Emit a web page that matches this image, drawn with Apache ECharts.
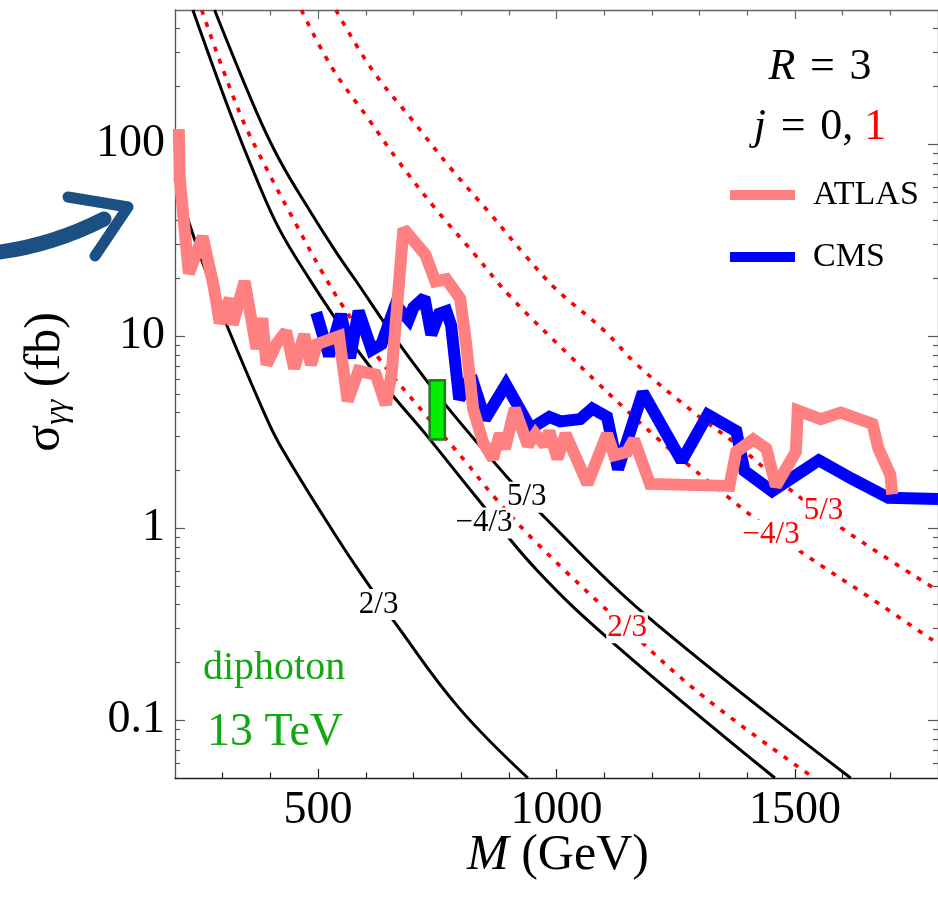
<!DOCTYPE html>
<html><head><meta charset="utf-8">
<script src="https://cdn.jsdelivr.net/npm/echarts@6/dist/echarts.min.js"></script>
<style>html,body{margin:0;padding:0;background:#fff}#c{width:938px;height:909px}</style>
</head><body><div id="c"></div>
<script>
// ---- tick values ----
const massTicks = [500, 1000, 1500];
const massMinorTicks = [300, 400, 600, 700, 800, 900, 1100, 1200, 1300, 1400, 1600, 1700];
const sigmaTicks = [0.1, 1, 10, 100];
const sigmaMinorTicks = [0.06,0.07,0.08,0.09,0.2,0.3,0.4,0.5,0.6,0.7,0.8,0.9,2,3,4,5,6,7,8,9,20,30,40,50,60,70,80,90,200,300,400];

// ---- ATLAS limit ----
const atlasMass = [208, 210, 229, 258, 281, 294, 314.6, 321, 346, 371, 383, 392, 412.5, 433, 450, 471, 485, 498, 544, 562, 585, 621, 642, 654, 679, 725, 746, 769, 798, 810, 825, 846, 867, 881, 892, 912.5, 940, 956, 975, 985, 1002, 1019, 1065, 1106, 1121, 1148, 1162.5, 1196, 1362.5, 1377, 1412.5, 1440, 1460, 1502, 1506, 1554, 1596, 1662.5, 1675, 1700, 1704];
const atlasSigma = [120, 66, 21.2, 33, 18.2, 11.7, 15.7, 11.5, 19.3, 8.6, 12.4, 7.1, 9.1, 10.6, 6.8, 10.2, 7.1, 9.1, 10.0, 4.6, 6.6, 6.3, 4.4, 6.3, 36.3, 26.6, 19.3, 19.8, 15.7, 9.4, 4.2, 2.8, 2.3, 3.1, 2.6, 4.2, 2.7, 3.1, 2.7, 3.2, 2.3, 3.1, 1.7, 3.1, 2.4, 2.5, 2.9, 1.7, 1.66, 2.5, 2.9, 2.6, 1.66, 2.5, 4.1, 3.7, 4.0, 3.5, 2.6, 1.9, 1.5];

// ---- CMS limit ----
const cmsMass = [496, 523, 548, 567, 585, 612.5, 633, 662.5, 690, 700, 723, 737.5, 754, 769, 779, 796, 821, 850, 894, 946, 985, 1008, 1050, 1075, 1106, 1129, 1181, 1262.5, 1317, 1377, 1394, 1452, 1550, 1621, 1696, 1800];
const cmsSigma = [13.3, 7.9, 13.0, 7.7, 13.5, 8.5, 9.1, 14.6, 12.2, 14.1, 15.9, 10.2, 13.1, 13.5, 11.4, 4.7, 6.2, 3.7, 5.6, 3.3, 3.8, 3.6, 3.7, 4.2, 3.8, 2.03, 5.1, 2.24, 3.9, 3.2, 1.99, 1.56, 2.26, 1.80, 1.44, 1.42];

// ---- theory curves, j = 0 (black) ----
const q23j0Mass = [200, 237.5, 267, 308, 383, 419, 544, 610, 662, 794, 940];
const q23j0Sigma = [66, 34, 21, 11.5, 4.2, 2.74, 0.86, 0.49, 0.32, 0.117, 0.05];
const qm43j0Mass = [237.5, 315, 371, 419, 481, 550, 585, 654, 725, 829, 960, 1121, 1458];
const qm43j0Sigma = [500, 147, 66, 36, 20, 11, 8.3, 5.0, 3.1, 1.48, 0.60, 0.25, 0.05];
const q53j0Mass = [283, 371, 419, 481, 537.5, 579, 669, 767, 892, 975, 1183, 1617];
const q53j0Sigma = [500, 147, 83, 45.7, 27.5, 19.5, 9.2, 4.4, 1.9, 1.14, 0.36, 0.05];

// ---- theory curves, j = 1 (red dotted) ----
const q23j1Mass = [256, 335, 392, 454, 508, 550, 627, 725, 808, 871, 960, 1148, 1308, 1540];
const q23j1Sigma = [500, 147, 74.6, 38.2, 21.7, 14.6, 7.7, 3.9, 2.24, 1.44, 0.83, 0.30, 0.133, 0.05];
const qm43j1Mass = [465, 529, 606, 669, 746, 829, 904, 1029, 1085, 1148, 1210, 1279, 1356, 1419, 1517, 1654, 1790];
const qm43j1Sigma = [500, 251, 135, 81.3, 46.2, 26.6, 16.0, 7.85, 5.75, 4.09, 2.96, 2.11, 1.48, 1.11, 0.74, 0.44, 0.26];
const q53j1Mass = [537.5, 612.5, 696, 779, 862.5, 933, 998, 1100, 1169, 1294, 1377, 1475, 1606, 1790];
const q53j1Sigma = [500, 246, 135, 74.5, 43, 26.6, 17.7, 10.7, 7.1, 3.9, 2.74, 1.7, 0.97, 0.49];

// ---- curve labels ----
const curveLabelText = ['2/3', '\u22124/3', '5/3', '2/3', '\u22124/3', '5/3'];
const curveLabelMass = [627, 848, 937.5, 1148, 1450, 1560];
const curveLabelSigma = [0.40, 1.065, 1.45, 0.303, 0.92, 1.23];
const curveLabelSpin = [0, 0, 0, 1, 1, 1];

// ---- 750 GeV excess box ----
const boxMass = [734, 766];
const boxSigma = [2.9, 5.9];

const SERIF = '"Liberation Serif", "Times New Roman", serif';
const zip = (a, b) => a.map((v, i) => [v, b[i]]);

function fmt(v) { return String(Number(Number(v).toPrecision(3))); }

function xAx(pos, ticks, len, label, lineColor, showLine) {
  return {
    type: 'value', min: 200, max: 1800, position: pos,
    splitLine: { show: false },
    axisLine: { show: showLine, onZero: false, lineStyle: { color: lineColor, width: 1.3 } },
    axisTick: { show: true, inside: true, length: len, customValues: ticks, lineStyle: { color: lineColor, width: 1.2 } },
    axisLabel: label ? { show: true, customValues: ticks, formatter: fmt, fontSize: 46, fontFamily: SERIF, color: '#000', margin: 10 } : { show: false }
  };
}
function yAx(pos, ticks, len, label, lineColor, showLine) {
  return {
    type: 'log', logBase: 10, min: 0.05, max: 500, position: pos,
    splitLine: { show: false }, minorTick: { show: false },
    axisLine: { show: showLine, onZero: false, lineStyle: { color: lineColor, width: 1.3 } },
    axisTick: { show: true, inside: true, length: len, customValues: ticks, lineStyle: { color: lineColor, width: 1.2 } },
    axisLabel: label ? { show: true, customValues: ticks, formatter: fmt, fontSize: 46, fontFamily: SERIF, color: '#000', margin: 10 } : { show: false }
  };
}

function curve(name, m, s, red) {
  return {
    name, type: 'line', xAxisIndex: 0, yAxisIndex: 0, data: zip(m, s), showSymbol: false, symbol: 'none',
    smooth: 0.4, silent: true, z: 2,
    lineStyle: red ? { color: '#ff0000', width: 3.6, type: [5, 8], cap: 'butt' } : { color: '#000', width: 3 }
  };
}

const chart = echarts.init(document.getElementById('c'), null, { renderer: 'canvas' });
chart.setOption({
  animation: false,
  backgroundColor: '#fff',
  grid: { left: 175, top: 10, width: 768, height: 768, containLabel: false },
  xAxis: [
    xAx('bottom', massTicks, 9, true, '#222', true),
    xAx('bottom', massMinorTicks, 5.5, false, '#222', false),
    xAx('top', massTicks, 9, false, '#666', true),
    xAx('top', massMinorTicks, 5.5, false, '#666', false)
  ],
  yAxis: [
    yAx('left', sigmaTicks, 10, true, '#555', true),
    yAx('left', sigmaMinorTicks, 5, false, '#555', false),
    yAx('right', sigmaTicks, 10, false, '#555', true),
    yAx('right', sigmaMinorTicks, 5, false, '#555', false)
  ],
  legend: {
    orient: 'vertical', left: 730, top: 178, padding: 0, itemWidth: 65, itemHeight: 10, itemGap: 28,
    icon: 'rect', selectedMode: false,
    textStyle: { fontFamily: SERIF, fontSize: 34, color: '#000', padding: [0, 0, 0, 13] },
    data: ['ATLAS', 'CMS']
  },
  series: [
    curve('q23j0', q23j0Mass, q23j0Sigma, false),
    curve('qm43j0', qm43j0Mass, qm43j0Sigma, false),
    curve('q53j0', q53j0Mass, q53j0Sigma, false),
    curve('q23j1', q23j1Mass, q23j1Sigma, true),
    curve('qm43j1', qm43j1Mass, qm43j1Sigma, true),
    curve('q53j1', q53j1Mass, q53j1Sigma, true),
    {
      name: 'CMS', type: 'line', data: zip(cmsMass, cmsSigma), showSymbol: false, symbol: 'none',
      color: '#0000ff', z: 3, silent: true,
      lineStyle: { color: '#0000ff', width: 12, join: 'miter', miterLimit: 2, cap: 'butt' }
    },
    {
      name: 'ATLAS', type: 'line', data: zip(atlasMass, atlasSigma), showSymbol: false, symbol: 'none',
      color: '#ff8080', z: 4, silent: true,
      lineStyle: { color: '#ff8080', width: 12, join: 'miter', miterLimit: 2, cap: 'butt' }
    },
    {
      name: 'box', type: 'custom', z: 6, silent: true,
      data: [[boxMass[0], boxSigma[0], boxMass[1], boxSigma[1]]],
      renderItem: function (params, api) {
        const p0 = api.coord([api.value(0), api.value(3)]);
        const p1 = api.coord([api.value(2), api.value(1)]);
        return { type: 'rect', shape: { x: p0[0], y: p0[1], width: p1[0] - p0[0], height: p1[1] - p0[1] },
          style: { fill: '#00f000', stroke: '#1e7d1e', lineWidth: 2.5 } };
      }
    },
    {
      name: 'labels', type: 'scatter', symbolSize: 0, z: 7, silent: true,
      data: curveLabelText.map((t, i) => ({
        value: [curveLabelMass[i], curveLabelSigma[i]],
        label: { color: curveLabelSpin[i] ? '#ff0000' : '#000' }
      })),
      label: {
        show: true, position: 'inside', formatter: p => curveLabelText[p.dataIndex],
        fontSize: 31, fontFamily: SERIF, backgroundColor: '#fff', padding: [0, 1],
        textBorderWidth: 0, textBorderColor: 'transparent', opacity: 1
      }
    }
  ],
  graphic: [
    { type: 'bezierCurve', silent: true, shape: { x1: -8, y1: 253, cpx1: 50, cpy1: 246.5, x2: 104, y2: 219 },
      style: { stroke: '#1c4f82', lineWidth: 15, lineCap: 'round', fill: null } },
    { type: 'polyline', silent: true, shape: { points: [[68, 197], [128, 207], [95, 256]] },
      style: { stroke: '#1c4f82', lineWidth: 11, lineCap: 'round', lineJoin: 'round', fill: null } },
    { type: 'text', silent: true, x: 820, y: 67,
      style: { text: '{i|R}\u2004=\u20043', fontSize: 44, fontFamily: SERIF, fill: '#000', align: 'center', verticalAlign: 'middle',
        textAlign: 'center', textVerticalAlign: 'middle',
        rich: { i: { fontStyle: 'italic', fontSize: 44, fontFamily: SERIF, fill: '#000' } } } },
    { type: 'text', silent: true, x: 820, y: 127,
      style: { text: '{i|j}\u2004=\u20040, {r|1}', fontSize: 44, fontFamily: SERIF, fill: '#000', align: 'center', verticalAlign: 'middle',
        textAlign: 'center', textVerticalAlign: 'middle',
        rich: { i: { fontStyle: 'italic', fontSize: 44, fontFamily: SERIF, fill: '#000' },
                r: { fontSize: 44, fontFamily: SERIF, fill: '#ff0000', color: '#ff0000' } } } },
    { type: 'text', silent: true, x: 203, y: 668,
      style: { text: 'diphoton', fontSize: 40, fontFamily: SERIF, fill: '#12a812', align: 'left', verticalAlign: 'middle',
        textAlign: 'left', textVerticalAlign: 'middle' } },
    { type: 'text', silent: true, x: 207, y: 733,
      style: { text: '13 TeV', fontSize: 46, fontFamily: SERIF, fill: '#12a812', align: 'left', verticalAlign: 'middle',
        textAlign: 'left', textVerticalAlign: 'middle' } },
    { type: 'text', silent: true, x: 558, y: 856,
      style: { text: '{i|M} (GeV)', fontSize: 50, fontFamily: SERIF, fill: '#000', align: 'center', verticalAlign: 'middle',
        textAlign: 'center', textVerticalAlign: 'middle',
        rich: { i: { fontStyle: 'italic', fontSize: 50, fontFamily: SERIF, fill: '#000' } } } },
    { type: 'text', silent: true, x: 46, y: 382, rotation: Math.PI / 2,
      style: { text: '{s|\u03c3}{g|\u03b3\u03b3} (fb)', fontSize: 50, fontFamily: SERIF, fill: '#000', align: 'center', verticalAlign: 'middle',
        textAlign: 'center', textVerticalAlign: 'middle',
        rich: { s: { fontSize: 50, fontFamily: SERIF, fill: '#000' },
                g: { fontSize: 32, fontStyle: 'italic', fontFamily: SERIF, fill: '#000', padding: [24, 0, 0, 0] } } } }
  ]
});
</script>
</body></html>
